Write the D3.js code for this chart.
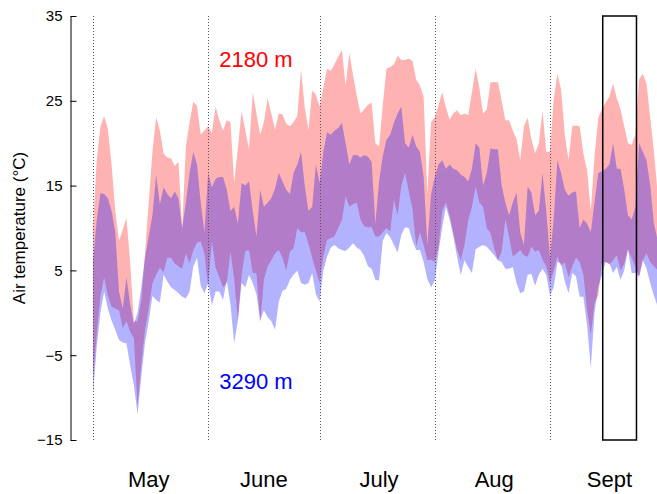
<!DOCTYPE html>
<html>
<head>
<meta charset="utf-8">
<script src="https://cdn.jsdelivr.net/npm/d3@7"></script>
<style>
  html, body { margin: 0; padding: 0; background: #fff; }
  svg { display: block; }
  text { font-family: "Liberation Sans", Arial, Helvetica, sans-serif; }
</style>
</head>
<body>
<svg id="chart" width="657" height="494"></svg>
<script>
// ---------------- data (daily, 1 May – 30 Sept) ----------------
const startDay = "2013-05-01";
const endDay = "2013-10-01";

// 2180 m station: daily max / min air temperature (°C)
const redMax = [
  10, 18, 22, 23.2, 21.7, 17.5, 12, 8.5, 9.8, 11.2,
  6, -1, -1, 1.5, 7, 13, 19, 23.1, 21.5, 18.8,
  18.3, 18.2, 17.3, 17.8, 10, 19.6, 22.5, 24.9, 24.4, 21,
  21.5, 22, 21.2, 24.3, 22.7, 21.5, 22.7, 22.5, 15.3, 19.5,
  23.8, 21.5, 19.3, 26, 23.5, 21, 22.5, 25.3, 23.5, 21.6,
  23.5, 23.4, 22.3, 22, 22.5, 23.2, 28.7, 24.2, 21.6, 26.2,
  25.7, 24.3, 26.5, 28.8, 28.5, 29.3, 30.2, 31, 26.8, 30.6,
  28, 25.6, 23.5, 24, 24.5, 24.8, 20, 19.6, 24.5, 28.8,
  29, 29.3, 30.3, 29.8, 29.8, 30, 29.7, 27.5, 26.8, 25.5,
  14, 22.5, 23, 24.5, 26, 24.2, 22.8, 23.5, 23.9, 23.3,
  23.5, 23.3, 26, 28.8, 26.5, 23.5, 24, 27.2, 27.2, 27.2,
  25, 22.7, 22.7, 21.5, 20.5, 18, 22, 23, 20.5, 18.8,
  20, 23.8, 19, 19, 25.1, 28.2, 26.3, 21, 18, 22,
  22.1, 22, 18.8, 16.8, 12, 18.5, 23, 24, 24.8, 25.5,
  27, 25.3, 24, 22, 20, 19.8, 21, 27.5, 28.2, 27,
  23, 19, 14
];
const redMin = [
  -8, -2.5, 2, 4.2, 2, 0.7, 0.5, 0.3, -1.8, -1,
  -2.2, -3, -11, -6, -2, 0.5, 3.5, 4.5, 5.3, 4.8,
  6.5, 6.5, 5.8, 5.5, 5.2, 7, 5.8, 7.4, 8.3, 8.4,
  7, 3, 8.5, 5.3, 4.2, 3, 3.5, 7.2, 4, -0.9,
  4.5, 7.3, 7.4, 4.7, 4.7, -1.2, 3.9, 5.5, 6.2, 7,
  7.4, 6.5, 5, 7.2, 7.6, 10, 9.5, 9.5, 8.1, 6.5,
  5, 3.5, 6.6, 8.6, 8.8, 9, 10, 10.9, 13.7, 12.5,
  12.8, 13, 11, 10.2, 10.1, 10.1, 9, 9, 9.5, 10,
  9.6, 13.3, 11.5, 15, 16.5, 14.3, 12.3, 7.8, 9.5, 8,
  6.2, 6.3, 6, 7.8, 12, 13, 11.5, 9.4, 7.4, 6.2,
  8, 10.9, 12.5, 14.9, 13, 12.5, 10, 9.4, 7.6, 6.2,
  7.2, 11, 9, 6.6, 7, 7.4, 6.8, 6.6, 7.8, 7.2,
  7.4, 6.3, 5.5, 3.5, 5, 6.6, 5.5, 6, 4.2, 5.5,
  6.5, 6, 4.5, 0.3, -2.6, 1.2, 2, 6, 6, 5.7,
  6.2, 6.8, 5, 5.8, 7.5, 6.5, 5.4, 4.2, 6.2, 7,
  6, 5.5, 5
];

// 3290 m station: daily max / min air temperature (°C)
const blueMax = [
  6, 11, 14.1, 14, 13.5, 12, 9.5, 2.5, 0.5, 4.2,
  1, -1.3, 0, 3, 6.5, 9, 11.5, 16.3, 12.8, 14.8,
  14, 13.5, 14.3, 13.5, 10, 13, 16.5, 19, 17.5, 13,
  9.5, 16.5, 14.8, 15.8, 16, 16, 14.5, 12, 12.5, 10.5,
  15.3, 15, 15.5, 12, 9, 14.5, 12.5, 13, 13.5, 14.7,
  16.5, 15.5, 14.5, 14, 16.5, 17.5, 19, 15, 12, 12.5,
  17.5, 15.3, 19, 21.3, 21, 21.5, 21.8, 22.4, 20, 17.5,
  18.6, 18.6, 18.3, 18.6, 18.4, 17.8, 10.5, 15.5, 18.5, 20.4,
  21, 22.4, 23.5, 24.3, 20, 19.5, 21, 19.6, 19, 16,
  8, 14, 16, 17.5, 18, 17, 17.5, 17, 16.8, 16.3,
  16, 15.5, 17, 20, 19.5, 15, 16.5, 19.4, 19.3, 19.3,
  15, 13, 11.5, 13, 14.2, 9.5, 8, 14.9, 14.2, 11.5,
  12, 16.5, 12, 6.5, 11, 18, 16.5, 14.5, 13.8, 14.2,
  14.3, 10, 11, 10.5, 9.5, 13, 16.5, 16.7, 17, 17.5,
  20, 17, 17, 14.5, 11.5, 11, 12.5, 20, 19, 18,
  15, 10.5, 8.5
];
const blueMin = [
  -9.7, -4, 0, 2.5, 0.5, -0.9, -2, -3.2, -3.5, -3.6,
  -6.2, -8.5, -12, -7.5, -3.5, -1, 2, 1.5, 1.2, 4.5,
  3.7, 3, 2.7, 2.3, 1.9, 1.7, 2.5, 5.5, 6.5, 3.2,
  2.3, 3.5, 0.9, 2.5, 2.5, 1.5, 3.8, 1, -3.6, -0.9,
  3.5, 3, 4.5, 3.5, 2.2, -0.9, 0.3, -0.5, -1, -2,
  1.3, 2.6, 2.8, 3.9, 4.5, 5, 3.5, 3.3, 3.5, 4.7,
  2.2, 1.3, 5, 6.6, 7.7, 8, 7.6, 7.4, 7.3, 7.7,
  8.2, 7.7, 7.4, 6.7, 5.5, 5.2, 3.9, 3.8, 8.5, 9.4,
  8.9, 8, 7.1, 9.2, 10.1, 10, 8.5, 7.4, 7.4, 6,
  4, 3, 3.8, 7.1, 10.1, 12.5, 11, 9, 6.6, 4.5,
  6.2, 5.4, 4.7, 7.5, 7.8, 8, 7.8, 7.3, 6.8, 6.2,
  6, 5.2, 5.2, 5.4, 3.5, 2.3, 2.5, 4.5, 4.6, 3.2,
  4.5, 5.2, 4.5, 2, 3, 6, 5.8, 3.7, 2.3, 4.7,
  4.3, 1.9, 1.9, -1.5, -6.5, 0, 3, 4.5, 6, 5.8,
  4.7, 5.4, 3.9, 5, 7.5, 4.7, 4.7, 4.3, 6.2, 5.2,
  3.5, 2, 0.7
];

const yTicks = [-15, -5, 5, 15, 25, 35];
const monthStarts = ["2013-05-01", "2013-06-01", "2013-07-01", "2013-08-01", "2013-09-01"];
const monthNames = ["May", "June", "July", "Aug", "Sept"];
const monthLabelDays = ["2013-05-16", "2013-06-16", "2013-07-17", "2013-08-17", "2013-09-17"];
const highlightRange = ["2013-09-15T05:00:00Z", "2013-09-24T07:00:00Z"];
const stationLabels = [
  { text: "2180 m", day: "2013-06-04", temp: 29, color: "#ff0000" },
  { text: "3290 m", day: "2013-06-04", temp: -9, color: "#0000ff" }
];

// ---------------- drawing ----------------
const parse = s => new Date(s.length > 10 ? s : s + "T00:00:00Z");
const start = parse(startDay);
const days = redMax.map((_, i) => d3.utcDay.offset(start, i));

const svg = d3.select("#chart");
svg.append("rect").attr("width", 657).attr("height", 494).attr("fill", "#fff");

const x = d3.scaleUtc().domain([parse(startDay), parse(endDay)]).range([93, 661.4]);
const y = d3.scaleLinear().domain([-15, 35]).range([440, 16]);

const redData = days.map((d, i) => ({ d, lo: redMin[i], hi: redMax[i] }));
const blueData = days.map((d, i) => ({ d, lo: blueMin[i], hi: blueMax[i] }));

const area = d3.area()
  .x(p => x(p.d))
  .y0(p => y(p.lo))
  .y1(p => y(p.hi))
  .curve(d3.curveLinear);

svg.append("path").datum(redData)
  .attr("d", area)
  .attr("fill", "rgba(255,0,0,0.3)");
svg.append("path").datum(blueData)
  .attr("d", area)
  .attr("fill", "rgba(0,0,255,0.3)");

// month boundary dotted lines
svg.append("g").selectAll("line").data(monthStarts).join("line")
  .attr("x1", d => Math.round(x(parse(d))) + 0.5)
  .attr("x2", d => Math.round(x(parse(d))) + 0.5)
  .attr("y1", y(35))
  .attr("y2", y(-15))
  .attr("stroke", "#555")
  .attr("stroke-width", 1)
  .attr("stroke-dasharray", "1 2");

// highlight box
svg.append("rect")
  .attr("x", x(parse(highlightRange[0])))
  .attr("y", y(35))
  .attr("width", x(parse(highlightRange[1])) - x(parse(highlightRange[0])))
  .attr("height", y(-15) - y(35))
  .attr("fill", "none")
  .attr("stroke", "#000")
  .attr("stroke-width", 1.5);

// y axis
const yAxis = d3.axisLeft(y)
  .tickValues(yTicks)
  .tickSizeInner(-6)
  .tickSizeOuter(0)
  .tickPadding(8)
  .tickFormat(d3.format("d"));
const gy = svg.append("g").attr("transform", "translate(70.5,0)").call(yAxis);
gy.selectAll("text").attr("font-size", 15).attr("fill", "#000")
  .attr("font-family", "'Liberation Sans', Arial, sans-serif");
gy.selectAll("line, path").attr("stroke", "#000");

svg.append("text")
  .attr("transform", `translate(24.5,${(y(35) + y(-15)) / 2}) rotate(-90)`)
  .attr("text-anchor", "middle")
  .attr("font-size", 17)
  .attr("fill", "#000")
  .text("Air temperature (°C)");

// month labels
svg.append("g").selectAll("text").data(monthNames).join("text")
  .attr("x", (d, i) => x(parse(monthLabelDays[i])))
  .attr("y", 487)
  .attr("text-anchor", "middle")
  .attr("font-size", 22)
  .attr("fill", "#000")
  .text(d => d);

// station labels
svg.append("g").selectAll("text").data(stationLabels).join("text")
  .attr("x", d => x(parse(d.day)))
  .attr("y", d => y(d.temp))
  .attr("font-size", 22)
  .attr("fill", d => d.color)
  .text(d => d.text);
</script>
</body>
</html>
